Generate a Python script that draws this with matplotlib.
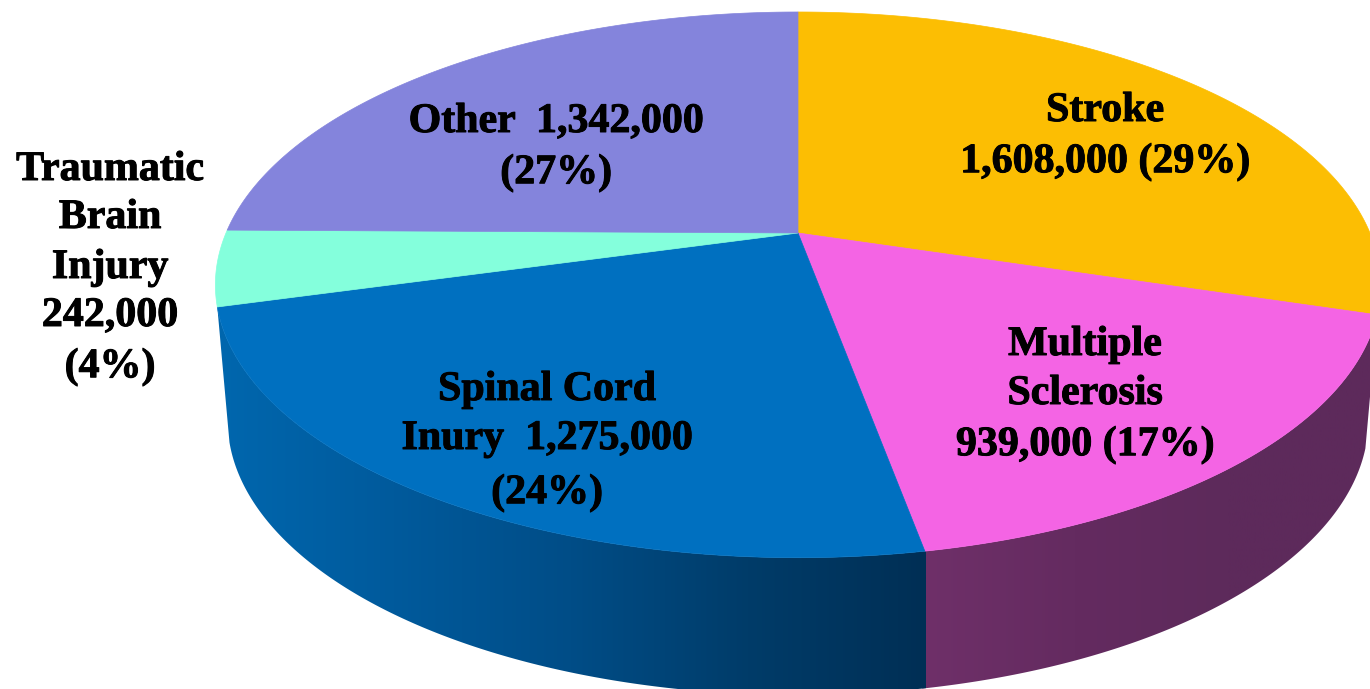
import numpy as np
import matplotlib
matplotlib.use('Agg')
import matplotlib.pyplot as plt
import matplotlib.patheffects as pe
from matplotlib.colors import LinearSegmentedColormap
from matplotlib.patches import Polygon

# slices, clockwise from 12 o'clock
categories = ['Stroke', 'Multiple Sclerosis', 'Spinal Cord', 'Traumatic Brain Injury', 'Other']
values = [1608000, 939000, 1275000, 242000, 1342000]
percents = [29, 17, 24, 4, 27]
colors = ['#FCBE03', '#F464E4', '#0070C0', '#84FFDC', '#8484DC']

label_lines = [
    ['Stroke', '1,608,000 (29%)'],
    ['Multiple', 'Sclerosis', '939,000 (17%)'],
    ['Spinal Cord', 'Inury  1,275,000', '(24%)'],
    ['Traumatic', 'Brain', 'Injury', '242,000', '(4%)'],
    ['Other  1,342,000', '(27%)'],
]
label_x = [1105, 1085, 547, 110, 556]
label_y = [[111, 162], [345, 394, 445], [390, 439, 493], [170, 218, 268, 316, 367], [122, 173]]

APEX_X, APEX_Y = 798, 233


def project(theta, x0, y0, a, b, k=0.19):
    # tilted circle seen in perspective, theta in degrees clockwise from the top
    t = np.radians(theta)
    u, v = np.sin(t), np.cos(t)
    w = 1 + k * v
    return x0 + a * u / w, y0 - b * v / w


def top(theta):
    return project(theta, APEX_X, APEX_Y, 572, 263)


def bottom(theta):
    return project(theta, 798, 368, 560, 265)


fig = plt.figure(figsize=(13.7, 6.89), dpi=100)
ax = fig.add_axes([0, 0, 1, 1])

edges = np.concatenate([[0], np.cumsum(values) / np.sum(values) * 360])

# side wall of the two front slices
wall_stops = {
    1: ['#6F3069', '#642B60', '#5D2A5B', '#5D2A5B'],
    2: ['#0067AE', '#005A9C', '#004D87', '#003C69', '#002F55'],
}
wall_extent = {1: (922, 1380), 2: (216, 926)}
for i, stops in wall_stops.items():
    th = np.linspace(edges[i] - 0.4, edges[i + 1], 150)
    xt, yt = top(th)
    xb, yb = bottom(th)
    pts = np.column_stack([np.r_[xt, xb[::-1]], np.r_[yt, yb[::-1]]])
    poly = Polygon(pts, closed=True, transform=ax.transData, fc='none', ec='none')
    ax.add_patch(poly)
    cmap = LinearSegmentedColormap.from_list('wall%d' % i, stops)
    im = ax.imshow(np.linspace(0, 1, 256)[None, :], cmap=cmap, aspect='auto',
                   extent=(wall_extent[i][0], wall_extent[i][1], 700, 300), zorder=1)
    im.set_clip_path(poly)

# top face
for i, c in enumerate(colors):
    th = np.linspace(edges[i], edges[i + 1], 200)
    xt, yt = top(th)
    pts = np.column_stack([np.r_[APEX_X, xt], np.r_[APEX_Y, yt]])
    ax.add_patch(Polygon(pts, closed=True, fc=c, ec=c, lw=0.5, zorder=2))

for lines, x, ys in zip(label_lines, label_x, label_y):
    for line, y in zip(lines, ys):
        ax.text(x, y, line, ha='center', va='center', color='black', zorder=3,
                fontsize=30.2, fontweight='bold', family='Liberation Serif',
                path_effects=[pe.withStroke(linewidth=0.7, foreground='black')])

ax.set_xlim(0, 1370)
ax.set_ylim(689, 0)
ax.set_axis_off()

fig.savefig('out.png', dpi=100)
